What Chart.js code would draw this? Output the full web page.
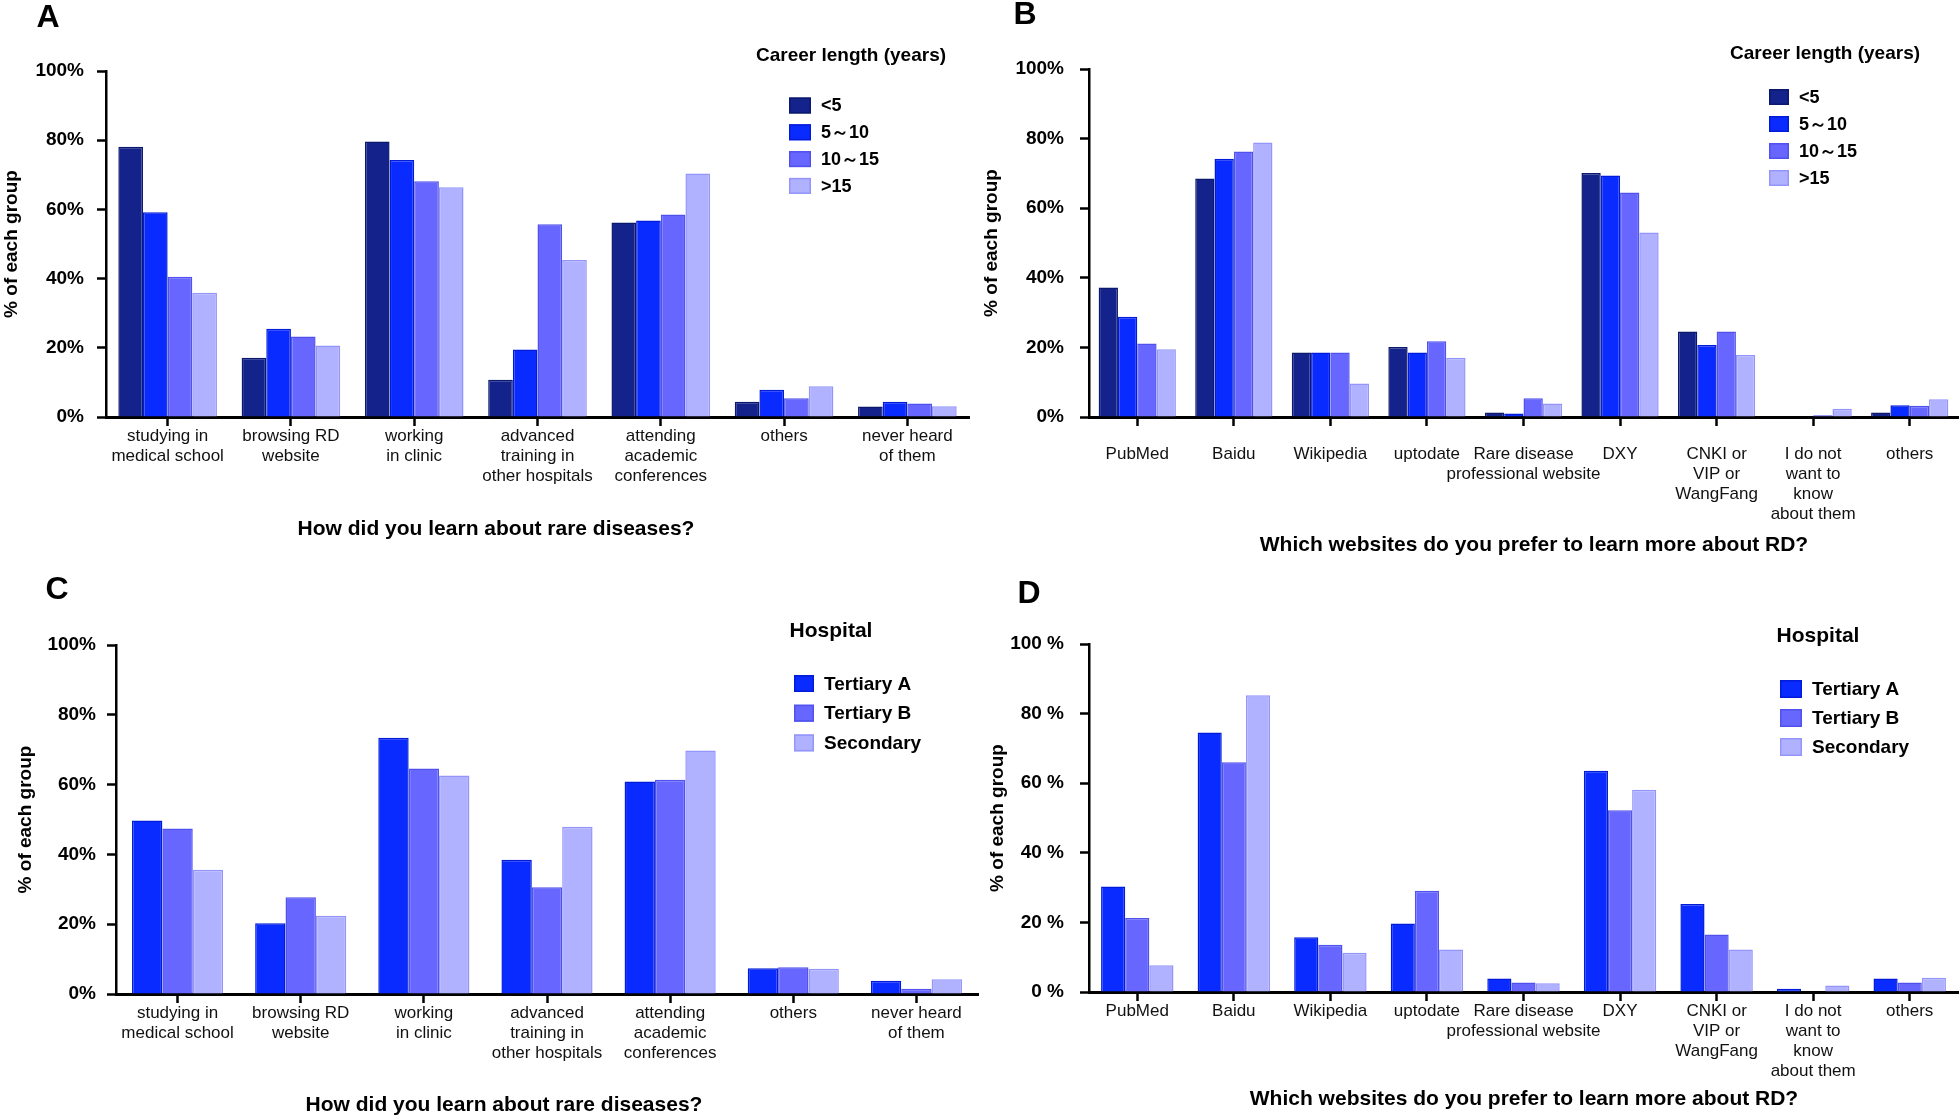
<!DOCTYPE html>
<html>
<head>
<meta charset="utf-8">
<script src="https://cdn.jsdelivr.net/npm/chart.js@4.4.1/dist/chart.umd.min.js"></script>
<style>
  html, body { margin: 0; padding: 0; background: #fff; }
  body { width: 1960px; height: 1120px; position: relative; overflow: hidden; }
  canvas { position: absolute; }
</style>
</head>
<body>
<canvas id="chartA" width="980" height="560" style="left:0;top:0"></canvas>
<canvas id="chartB" width="980" height="560" style="left:980px;top:0"></canvas>
<canvas id="chartC" width="980" height="560" style="left:0;top:560px"></canvas>
<canvas id="chartD" width="980" height="560" style="left:980px;top:560px"></canvas>
<script>
const FAMILY = '"Liberation Sans", Arial, Helvetica, sans-serif';

// categories
const learnCats = [['studying in', 'medical school'], ['browsing RD', 'website'], ['working', 'in clinic'],
  ['advanced', 'training in', 'other hospitals'], ['attending', 'academic', 'conferences'], 'others', ['never heard', 'of them']];
const siteCats = ['PubMed', 'Baidu', 'Wikipedia', 'uptodate', ['Rare disease', 'professional website'], 'DXY',
  ['CNKI or', 'VIP or', 'WangFang'], ['I do not', 'want to', 'know', 'about them'], 'others'];

const careerLabels = ['<5', '5\uFF5E10', '10\uFF5E15', '>15'];
const hospitalLabels = ['Tertiary A', 'Tertiary B', 'Secondary'];

// A: how did you learn, by career length (%)
const lt5A = [78.1, 17.1, 79.6, 10.8, 56.2, 4.4, 3.0];
const y5to10A = [59.2, 25.5, 74.3, 19.5, 56.8, 7.9, 4.4];
const y10to15A = [40.5, 23.3, 68.1, 55.7, 58.5, 5.4, 3.9];
const gt15A = [35.9, 20.7, 66.4, 45.4, 70.4, 8.9, 3.1];

// B: websites, by career length (%)
const lt5B = [37.2, 68.5, 18.5, 20.1, 1.3, 70.1, 24.6, 0, 1.3];
const y5to10B = [28.8, 74.2, 18.5, 18.5, 1.0, 69.4, 20.7, 0, 3.4];
const y10to15B = [21.1, 76.3, 18.5, 21.8, 5.4, 64.5, 24.6, 0.5, 3.2];
const gt15B = [19.5, 78.9, 9.6, 17.0, 3.9, 53.0, 17.8, 2.4, 5.1];

// C: how did you learn, by hospital (%)
const terAC = [49.7, 20.3, 73.4, 38.5, 60.9, 7.4, 3.8];
const terBC = [47.4, 27.7, 64.6, 30.6, 61.4, 7.7, 1.5];
const secC = [35.6, 22.4, 62.6, 47.9, 69.8, 7.2, 4.2];

// D: websites, by hospital (%)
const terAD = [30.3, 74.6, 15.7, 19.7, 3.9, 63.6, 25.3, 0.9, 3.9];
const terBD = [21.3, 66.0, 13.6, 29.1, 2.7, 52.2, 16.5, 0, 2.7];
const secD = [7.7, 85.3, 11.3, 12.2, 2.5, 58.1, 12.2, 1.9, 4.1];

const yTicks = [0, 20, 40, 60, 80, 100];

const fills = { navy: '#13238b', blue: '#0a2bff', mid: '#6767ff', light: '#b0b2ff' };
const edges = { navy: '#0b186c', blue: '#001cd8', mid: '#5151ee', light: '#9395fb' };

Chart.defaults.font.family = FAMILY;
Chart.defaults.color = '#000';

// panel letter, legend and x title
const decor = {
  id: 'decor',
  afterDraw(chart, args, o) {
    const ctx = chart.ctx;
    ctx.save();
    ctx.fillStyle = '#000';
    ctx.textBaseline = 'middle';
    ctx.textAlign = 'center';
    ctx.font = 'bold 32px ' + FAMILY;
    ctx.fillText(o.letter, o.letterX, o.letterY);
    ctx.font = 'bold 21px ' + FAMILY;
    ctx.fillText(o.xTitle, o.xTitleX, o.xTitleY);
    ctx.font = 'bold ' + o.legendTitleSize + 'px ' + FAMILY;
    ctx.fillText(o.legendTitle, o.legendTitleX, o.legendTitleY);
    ctx.textAlign = 'left';
    ctx.font = 'bold ' + o.legendSize + 'px ' + FAMILY;
    chart.data.datasets.forEach((ds, i) => {
      const y = o.boxTop + i * o.boxStep;
      ctx.fillStyle = ds.backgroundColor;
      ctx.fillRect(o.boxX, y, o.boxW, o.boxH);
      ctx.strokeStyle = ds.borderColor;
      ctx.lineWidth = 1.5;
      ctx.strokeRect(o.boxX + 0.75, y + 0.75, o.boxW - 1.5, o.boxH - 1.5);
      ctx.fillStyle = '#000';
      ctx.fillText(ds.label, o.textX, y + o.boxH / 2 + 1);
    });
    ctx.restore();
  }
};

function makeChart(id, labels, series, names, colors, cfg) {
  const datasets = series.map((data, i) => ({
    label: names[i],
    data: data,
    backgroundColor: fills[colors[i]],
    borderColor: edges[colors[i]],
    borderWidth: 1.5,
    borderSkipped: 'bottom',
    categoryPercentage: cfg.catPct,
    barPercentage: 1.0
  }));
  return new Chart(document.getElementById(id), {
    type: 'bar',
    data: { labels: labels, datasets: datasets },
    plugins: [decor],
    options: {
      responsive: false,
      animation: false,
      events: [],
      layout: { padding: cfg.padding },
      plugins: {
        legend: { display: false },
        tooltip: { enabled: false },
        decor: cfg.decor
      },
      scales: {
        x: {
          afterFit: (s) => { s.height = cfg.xHeight; },
          border: { display: true, color: '#000', width: 3 },
          grid: { display: true, offset: false, drawOnChartArea: false, drawTicks: true, tickLength: 9, tickColor: '#000', tickWidth: 2.5 },
          ticks: { autoSkip: false, maxRotation: 0, padding: cfg.xPad, color: '#111', font: { size: 17, lineHeight: 1.18 } }
        },
        y: {
          min: 0,
          max: 100,
          afterFit: (s) => { s.width = cfg.yWidth; },
          afterBuildTicks: (s) => { s.ticks = yTicks.map(v => ({ value: v })); },
          border: { display: true, color: '#000', width: 2.5 },
          grid: { display: true, drawOnChartArea: false, drawTicks: true, tickLength: 9, tickColor: '#000', tickWidth: 2.5 },
          ticks: { padding: cfg.yPad, font: { size: 19, weight: 'bold' }, callback: (v) => v + cfg.pct },
          title: { display: true, text: '% of each group', font: { size: 19, weight: 'bold' }, padding: { top: cfg.yTitlePad, bottom: 0 } }
        }
      }
    }
  });
}

makeChart('chartA', learnCats, [lt5A, y5to10A, y10to15A, gt15A], careerLabels, ['navy', 'blue', 'mid', 'light'], {
  catPct: 0.8, padding: { top: 71, right: 11, left: 0, bottom: 0 }, xHeight: 143, yWidth: 106, xPad: 0, yPad: 13, yTitlePad: 0, pct: '%',
  decor: { letter: 'A', letterX: 48, letterY: 18, xTitle: 'How did you learn about rare diseases?', xTitleX: 496, xTitleY: 529,
    legendTitle: 'Career length (years)', legendTitleSize: 19, legendTitleX: 851, legendTitleY: 56,
    legendSize: 18, boxX: 789, boxW: 22, boxH: 16, boxTop: 97.5, boxStep: 26.8, textX: 821 }
});

makeChart('chartB', siteCats, [lt5B, y5to10B, y10to15B, gt15B], careerLabels, ['navy', 'blue', 'mid', 'light'], {
  catPct: 0.8, padding: { top: 69, right: 2, left: 0, bottom: 0 }, xHeight: 143, yWidth: 109, xPad: 18, yPad: 16, yTitlePad: 0, pct: '%',
  decor: { letter: 'B', letterX: 45, letterY: 15, xTitle: 'Which websites do you prefer to learn more about RD?', xTitleX: 554, xTitleY: 545,
    legendTitle: 'Career length (years)', legendTitleSize: 19, legendTitleX: 845, legendTitleY: 54,
    legendSize: 18, boxX: 789, boxW: 20, boxH: 16, boxTop: 89, boxStep: 27, textX: 819 }
});

makeChart('chartC', learnCats, [terAC, terBC, secC], hospitalLabels, ['blue', 'mid', 'light'], {
  catPct: 0.74, padding: { top: 85, right: 2, left: 0, bottom: 0 }, xHeight: 126, yWidth: 116, xPad: 0, yPad: 11, yTitlePad: 14, pct: '%',
  decor: { letter: 'C', letterX: 57, letterY: 30, xTitle: 'How did you learn about rare diseases?', xTitleX: 504, xTitleY: 545,
    legendTitle: 'Hospital', legendTitleSize: 21, legendTitleX: 831, legendTitleY: 71,
    legendSize: 19, boxX: 794, boxW: 20, boxH: 17, boxTop: 115, boxStep: 29.7, textX: 824 }
});

makeChart('chartD', siteCats, [terAD, terBD, secD], hospitalLabels, ['blue', 'mid', 'light'], {
  catPct: 0.75, padding: { top: 84, right: 2, left: 0, bottom: 0 }, xHeight: 128, yWidth: 109, xPad: 0, yPad: 16, yTitlePad: 6, pct: ' %',
  decor: { letter: 'D', letterX: 49, letterY: 34, xTitle: 'Which websites do you prefer to learn more about RD?', xTitleX: 544, xTitleY: 539,
    legendTitle: 'Hospital', legendTitleSize: 21, legendTitleX: 838, legendTitleY: 76,
    legendSize: 19, boxX: 800, boxW: 22, boxH: 18, boxTop: 120, boxStep: 29, textX: 832 }
});
</script>
</body>
</html>
